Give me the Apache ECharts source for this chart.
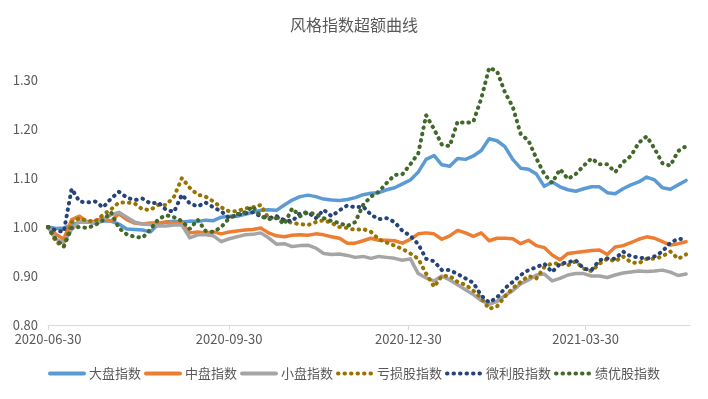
<!DOCTYPE html>
<html>
<head>
<meta charset="utf-8">
<title>风格指数超额曲线</title>
<script src="https://cdn.jsdelivr.net/npm/echarts@6/dist/echarts.min.js"></script>
<style>
html,body{margin:0;padding:0;background:#fff;}
#main{width:708px;height:399px;}
</style>
</head>
<body>
<div id="main"></div>
<script>
// dates (every 4 calendar days)
var dates = ['2020-06-30','2020-07-04','2020-07-08','2020-07-12','2020-07-16','2020-07-20','2020-07-24','2020-07-28','2020-08-01','2020-08-05',
	'2020-08-09','2020-08-13','2020-08-17','2020-08-21','2020-08-25','2020-08-29','2020-09-02','2020-09-06','2020-09-10','2020-09-14',
	'2020-09-18','2020-09-22','2020-09-26','2020-09-30','2020-10-04','2020-10-08','2020-10-12','2020-10-16','2020-10-20','2020-10-24',
	'2020-10-28','2020-11-01','2020-11-05','2020-11-09','2020-11-13','2020-11-17','2020-11-21','2020-11-25','2020-11-29','2020-12-03',
	'2020-12-07','2020-12-11','2020-12-15','2020-12-19','2020-12-23','2020-12-27','2020-12-31','2021-01-04','2021-01-08','2021-01-12',
	'2021-01-16','2021-01-20','2021-01-24','2021-01-28','2021-02-01','2021-02-05','2021-02-09','2021-02-13','2021-02-17','2021-02-21',
	'2021-02-25','2021-03-01','2021-03-05','2021-03-09','2021-03-13','2021-03-17','2021-03-21','2021-03-25','2021-03-29','2021-04-02',
	'2021-04-06','2021-04-10','2021-04-14','2021-04-18','2021-04-22','2021-04-26','2021-04-30','2021-05-04','2021-05-08','2021-05-12',
	'2021-05-16','2021-05-20'];

var tickDates = ['2020-06-30','2020-09-30','2020-12-30','2021-03-30'];
var startDate = '2020-06-30';
var endDate = '2021-05-22';
var names = ['大盘指数','中盘指数','小盘指数','亏损股指数','微利股指数','绩优股指数'];

var bigCap = [1.000,0.997,0.998,1.004,1.010,1.010,1.008,1.012,1.012,1.006,
	0.996,0.995,0.994,0.990,1.006,1.010,1.012,1.010,1.012,1.011,
	1.014,1.013,1.020,1.022,1.022,1.026,1.030,1.034,1.035,1.034,
	1.045,1.055,1.062,1.065,1.062,1.057,1.055,1.054,1.056,1.060,
	1.066,1.069,1.070,1.076,1.080,1.088,1.096,1.112,1.138,1.146,
	1.127,1.124,1.140,1.138,1.145,1.156,1.180,1.176,1.164,1.138,
	1.120,1.118,1.108,1.083,1.092,1.082,1.076,1.073,1.078,1.082,
	1.082,1.070,1.068,1.078,1.086,1.092,1.102,1.096,1.080,1.077,
	1.086,1.095];
var midCap = [1.000,0.985,0.975,1.015,1.022,1.010,1.012,1.018,1.012,1.027,
	1.015,1.008,1.006,1.008,1.008,1.010,1.008,1.008,0.988,0.990,
	0.988,0.990,0.986,0.990,0.992,0.994,0.995,0.998,0.988,0.982,
	0.980,0.983,0.984,0.983,0.986,0.984,0.980,0.977,0.967,0.967,
	0.972,0.977,0.973,0.973,0.972,0.967,0.975,0.986,0.988,0.986,
	0.975,0.982,0.993,0.988,0.981,0.988,0.972,0.977,0.977,0.976,
	0.966,0.973,0.962,0.958,0.943,0.933,0.946,0.948,0.950,0.952,
	0.953,0.944,0.959,0.962,0.968,0.975,0.980,0.977,0.970,0.963,
	0.966,0.970];
var smallCap = [1.000,0.975,0.968,0.995,1.012,1.010,1.008,1.015,1.025,1.030,
	1.020,1.010,1.006,1.005,1.002,1.002,1.004,1.004,0.978,0.984,
	0.984,0.982,0.970,0.976,0.980,0.984,0.985,0.988,0.978,0.965,
	0.966,0.960,0.962,0.963,0.957,0.946,0.944,0.945,0.942,0.938,
	0.940,0.936,0.940,0.938,0.936,0.932,0.935,0.905,0.896,0.890,
	0.900,0.892,0.882,0.872,0.862,0.850,0.842,0.848,0.860,0.870,
	0.884,0.892,0.902,0.904,0.890,0.895,0.902,0.905,0.905,0.900,
	0.900,0.897,0.902,0.906,0.908,0.910,0.909,0.910,0.912,0.908,
	0.901,0.904];
var lossStock = [1.000,0.970,0.960,1.010,1.018,1.012,1.012,1.025,1.036,1.050,
	1.050,1.048,1.036,1.035,1.045,1.045,1.062,1.100,1.080,1.066,
	1.062,1.052,1.040,1.032,1.032,1.038,1.040,1.045,1.018,1.020,
	1.014,1.008,1.006,1.004,1.010,1.014,1.008,1.000,0.998,0.994,
	0.996,0.990,0.975,0.968,0.962,0.955,0.946,0.935,0.905,0.878,
	0.900,0.900,0.888,0.882,0.870,0.855,0.833,0.838,0.858,0.875,
	0.888,0.900,0.895,0.918,0.926,0.925,0.922,0.930,0.915,0.910,
	0.925,0.935,0.930,0.940,0.928,0.926,0.935,0.935,0.940,0.950,
	0.935,0.944];
var lowProfit = [1.000,0.993,0.990,1.078,1.052,1.050,1.052,1.040,1.058,1.072,
	1.060,1.055,1.058,1.048,1.050,1.035,1.031,1.066,1.048,1.042,
	1.050,1.040,1.032,1.018,1.025,1.028,1.030,1.022,1.018,1.022,
	1.014,1.012,1.028,1.030,1.018,1.035,1.022,1.034,1.044,1.040,
	1.042,1.025,1.016,1.018,1.010,0.992,0.982,0.965,0.935,0.930,
	0.912,0.912,0.904,0.895,0.886,0.860,0.846,0.856,0.875,0.888,
	0.902,0.912,0.918,0.925,0.908,0.925,0.928,0.932,0.915,0.912,
	0.932,0.936,0.935,0.950,0.940,0.938,0.935,0.940,0.950,0.968,
	0.976,0.975];
var bestPerf = [1.000,0.975,0.960,0.998,1.000,0.998,1.004,1.014,1.030,0.998,
	0.985,0.980,0.978,0.995,1.016,1.024,1.020,1.012,0.996,1.015,
	0.992,0.990,1.000,1.018,1.026,1.030,1.042,1.022,1.016,1.018,
	1.006,1.038,1.022,1.030,1.026,1.018,1.012,1.008,1.002,1.010,
	1.045,1.062,1.072,1.090,1.106,1.108,1.128,1.150,1.228,1.200,
	1.168,1.165,1.215,1.212,1.215,1.262,1.325,1.318,1.275,1.245,
	1.190,1.176,1.140,1.108,1.090,1.118,1.098,1.108,1.125,1.140,
	1.128,1.128,1.112,1.132,1.145,1.172,1.185,1.160,1.130,1.125,
	1.155,1.165];

var colors = ['#5b9bd5','#ed7d31','#a5a5a5','#997300','#264478','#43682b'];

// 日期 -> 距起始日的天数（x轴按自然日等距）
var DAY = 86400000;
function ts(s){
	var p = s.split('-');
	return Date.UTC(+p[0], p[1]-1, +p[2]);
}
function dayOf(s){ return Math.round((ts(s) - ts(startDate)) / DAY); }
function pad(n){ return n < 10 ? '0'+n : ''+n; }
function dateOf(d){
	var t = new Date(ts(startDate) + d * DAY);
	return t.getUTCFullYear() + '-' + pad(t.getUTCMonth()+1) + '-' + pad(t.getUTCDate());
}

function pairs(vals){
	var out = [];
	for(var i=0;i<dates.length;i++){
		out.push([dayOf(dates[i]), vals[i]]);
	}
	return out;
}

var allVals = [bigCap, midCap, smallCap, lossStock, lowProfit, bestPerf];
var _series = [];
for(var i=0;i<allVals.length;i++){
	var dotted = i >= 3;
	_series.push({
		name: names[i],
		type: 'line',
		symbol: 'none',
		data: pairs(allVals[i]),
		itemStyle: {color: colors[i]},
		lineStyle: dotted
			? {color: colors[i], width: 4, type: [0.5, 6], cap: 'round'}
			: {color: colors[i], width: 3.5, cap: 'round', join: 'round'}
	});
}

var tickVals = tickDates.map(dayOf);

var myChart = echarts.init(document.getElementById('main'));
var option = {
	animation: false,
	textStyle: {fontFamily: '"Noto Sans CJK SC", "Noto Sans", sans-serif'},
	title: {
		text: '风格指数超额曲线',
		left: 'center',
		top: 12,
		textStyle: {fontSize: 16, fontWeight: 'normal', color: '#595959'}
	},
	legend: {
		bottom: 14,
		left: 'center',
		itemWidth: 34,
		itemHeight: 8,
		itemGap: 3,
		itemStyle: {opacity: 0},
		lineStyle: {width: 4, cap: 'round'},
		textStyle: {fontSize: 13, color: '#595959'},
		data: names
	},
	grid: {left: 48, right: 18, top: 55.5, bottom: 74},
	xAxis: {
		type: 'value',
		min: 0,
		max: dayOf(endDate),
		axisLine: {lineStyle: {color: '#d9d9d9', width: 1}},
		axisTick: {show: true, customValues: tickVals, length: 5, lineStyle: {color: '#d9d9d9'}},
		axisLabel: {
			customValues: tickVals,
			color: '#595959',
			fontSize: 13,
			margin: 8,
			formatter: function(v){ return dateOf(v); }
		},
		splitLine: {show: false}
	},
	yAxis: {
		type: 'value',
		min: 0.8,
		max: 1.35,
		interval: 0.1,
		axisLine: {show: false},
		axisTick: {show: false},
		splitLine: {show: false},
		axisLabel: {
			color: '#595959',
			fontSize: 13,
			margin: 10,
			showMaxLabel: false,
			formatter: function(v){ return v.toFixed(2); }
		}
	},
	series: _series
};
myChart.setOption(option);
</script>
</body>
</html>
